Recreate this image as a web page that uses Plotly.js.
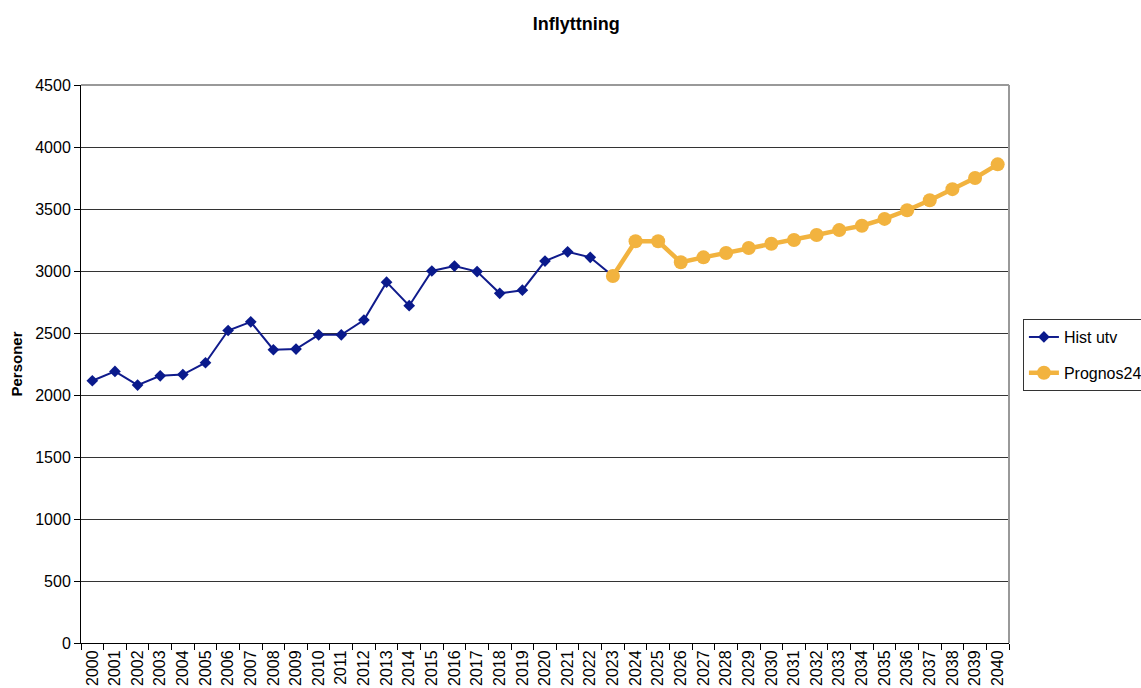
<!DOCTYPE html>
<html>
<head>
<meta charset="utf-8">
<script src="https://cdn.plot.ly/plotly-3.0.1.min.js"></script>
<style>
  html, body { margin: 0; padding: 0; background: #fff; }
  #chart { width: 1141px; height: 688px; }
</style>
</head>
<body>
<div id="chart"></div>
<script>
const histYears = ['2000','2001','2002','2003','2004','2005','2006','2007','2008','2009','2010',
    '2011','2012','2013','2014','2015','2016','2017','2018','2019','2020','2021','2022','2023'];
const histValues = [2115, 2190, 2080, 2155, 2165, 2260, 2520, 2590, 2365, 2370, 2485,
    2485, 2605, 2910, 2720, 3000, 3040, 2995, 2820, 2845, 3080, 3155, 3110, 2960];

const progYears = ['2023','2024','2025','2026','2027','2028','2029','2030','2031','2032',
    '2033','2034','2035','2036','2037','2038','2039','2040'];
const progValues = [2960, 3240, 3240, 3070, 3110, 3145, 3185, 3220, 3250, 3290,
    3330, 3365, 3420, 3490, 3570, 3660, 3750, 3860];

const allYears = [];
for (let y = 2000; y <= 2040; y++) allYears.push(String(y));

const font = 'Liberation Sans, Arial, sans-serif';

let data = [
    {
        x: histYears,
        y: histValues,
        type: 'scatter',
        mode: 'lines+markers',
        name: 'Hist utv',
        legendgroup: 'hist',
        line: {color: '#101b8c', width: 2},
        marker: {symbol: 'diamond', size: 9, color: '#0a1a8c'}
    },
    {
        x: progYears,
        y: progValues,
        type: 'scatter',
        mode: 'lines+markers',
        name: 'Prognos24',
        legendgroup: 'prog',
        line: {color: '#f2b33f', width: 4.5},
        marker: {symbol: 'circle', size: 14, color: '#f2b33f'}
    }
];

let layout = {
    width: 1141,
    height: 688,
    margin: {l: 81, r: 132, t: 85, b: 45, autoexpand: false},
    paper_bgcolor: '#fff',
    plot_bgcolor: '#fff',
    font: {family: font, size: 16, color: '#000'},
    title: {
        text: '<b>Inflyttning</b>',
        font: {family: font, size: 18, color: '#000'},
        x: 0.505, xanchor: 'center',
        y: 0.965, yanchor: 'middle', yref: 'container'
    },
    showlegend: true,
    legend: {
        x: 1.015, xanchor: 'left',
        y: 0.516, yanchor: 'middle',
        bordercolor: '#333', borderwidth: 1,
        bgcolor: '#fff',
        font: {family: font, size: 16, color: '#000'},
        tracegroupgap: 12,
        itemwidth: 30
    },
    xaxis: {
        type: 'category',
        categoryorder: 'array',
        categoryarray: allYears,
        range: [-0.5, 40.5],
        tickson: 'boundaries',
        ticks: 'outside',
        ticklen: 6,
        tickcolor: '#000',
        tickangle: -90,
        showline: true,
        linecolor: '#000',
        linewidth: 1,
        showgrid: false,
        tickfont: {family: font, size: 16, color: '#000'},
        fixedrange: true
    },
    yaxis: {
        range: [0, 4500],
        dtick: 500,
        ticks: 'outside',
        ticklen: 6,
        tickcolor: '#000',
        showline: true,
        linecolor: '#000',
        linewidth: 1,
        gridcolor: '#333',
        gridwidth: 1,
        zeroline: false,
        tickfont: {family: font, size: 16, color: '#000'},
        title: {
            text: '<b>Personer</b>',
            font: {family: font, size: 15, color: '#000'},
            standoff: 8
        },
        fixedrange: true
    },
    shapes: [
        {type: 'line', xref: 'paper', yref: 'paper', x0: 1, x1: 1, y0: 0, y1: 1,
         line: {color: '#999', width: 2}},
        {type: 'line', xref: 'paper', yref: 'paper', x0: 0, x1: 1, y0: 1, y1: 1,
         line: {color: '#999', width: 2}}
    ]
};

let config = {
    displayModeBar: false,
    staticPlot: true
};

Plotly.newPlot('chart', data, layout, config);
</script>
</body>
</html>
